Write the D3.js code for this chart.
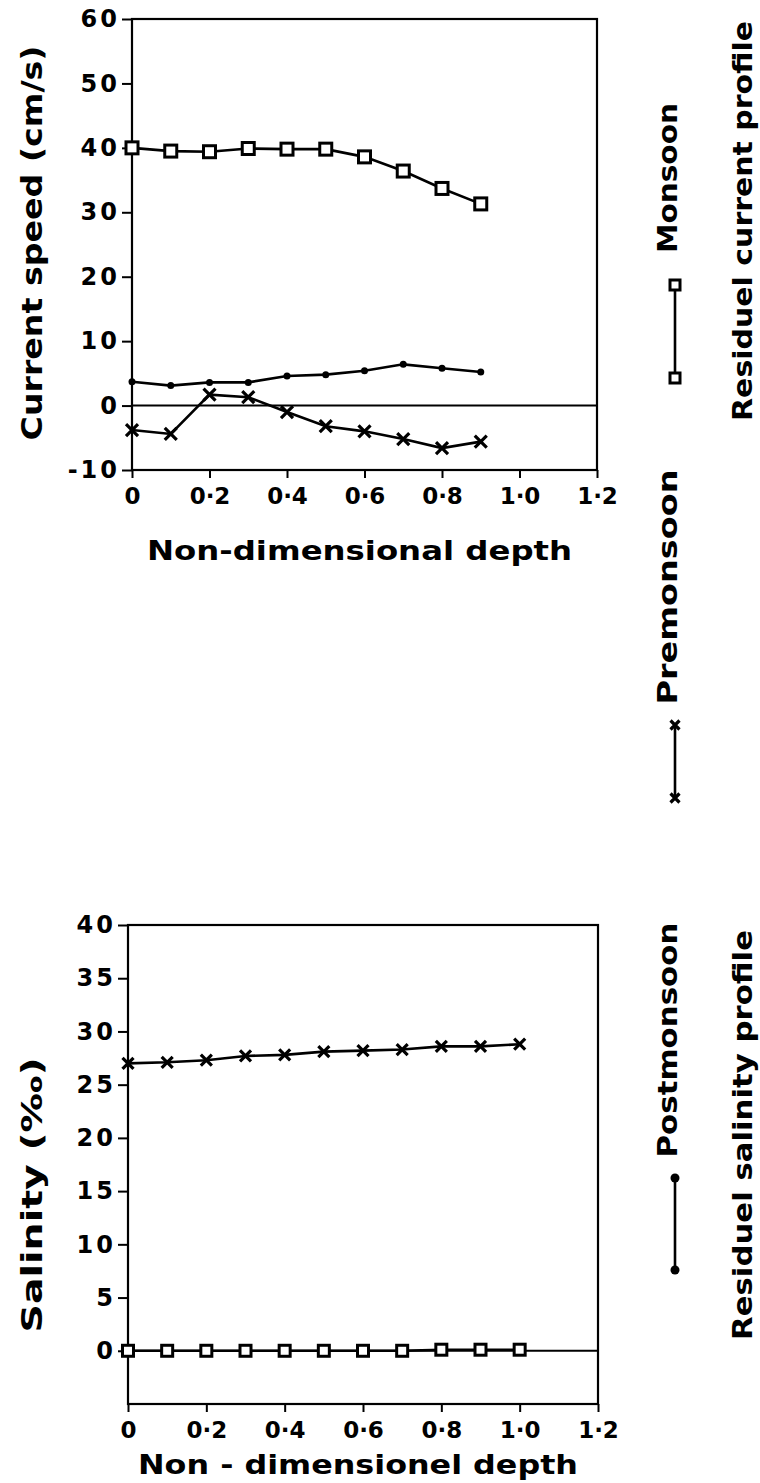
<!DOCTYPE html>
<html>
<head>
<meta charset="utf-8">
<script src="https://cdn.jsdelivr.net/npm/d3@7/dist/d3.min.js"></script>
<style>
  html, body { margin: 0; padding: 0; background: #fff; }
  svg { display: block; }
  text { font-family: "DejaVu Sans", sans-serif; font-weight: bold; fill: #000; }
</style>
</head>
<body>
<svg id="fig" width="760" height="1483"></svg>
<script>
// Non-dimensional depth stations
const depthCurrent = [0, 0.1, 0.2, 0.3, 0.4, 0.5, 0.6, 0.7, 0.8, 0.9];
const depthSalinity = [0, 0.1, 0.2, 0.3, 0.4, 0.5, 0.6, 0.7, 0.8, 0.9, 1.0];

// Residual current speed (cm/s)
const monsoonCurrent = [40.0, 39.5, 39.4, 39.9, 39.8, 39.8, 38.6, 36.4, 33.7, 31.3];
const premonsoonCurrent = [-3.8, -4.4, 1.7, 1.3, -1.0, -3.2, -4.0, -5.2, -6.6, -5.6];
const postmonsoonCurrent = [3.7, 3.1, 3.6, 3.6, 4.6, 4.8, 5.4, 6.4, 5.8, 5.2];

// Residual salinity (per mille)
const premonsoonSalinity = [27.0, 27.1, 27.3, 27.7, 27.8, 28.1, 28.2, 28.3, 28.6, 28.6, 28.8];
const monsoonSalinity = [0, 0, 0, 0, 0, 0, 0, 0, 0.1, 0.1, 0.1];

// Tick values
const xTicks = [0, 0.2, 0.4, 0.6, 0.8, 1.0, 1.2];
const currentTicks = [-10, 0, 10, 20, 30, 40, 50, 60];
const salinityTicks = [0, 5, 10, 15, 20, 25, 30, 35, 40];

const svg = d3.select("#fig");

const fmtX = d => d === 0 ? "0" : d3.format(".1f")(d).replace(".", "·");

function squareMark(g, pts, size) {
  g.selectAll(null).data(pts).join("rect")
    .attr("x", d => d[0] - size / 2).attr("y", d => d[1] - size / 2)
    .attr("width", size).attr("height", size)
    .attr("fill", "#fff").attr("stroke", "#000").attr("stroke-width", 3);
}
function crossMark(g, pts, size) {
  const h = size / 2;
  g.selectAll(null).data(pts).join("path")
    .attr("d", d => `M${d[0]-h},${d[1]-h}L${d[0]+h},${d[1]+h}M${d[0]-h},${d[1]+h}L${d[0]+h},${d[1]-h}`)
    .attr("stroke", "#000").attr("stroke-width", 3.2).attr("fill", "none");
}
function dotMark(g, pts, r) {
  g.selectAll(null).data(pts).join("circle")
    .attr("cx", d => d[0]).attr("cy", d => d[1]).attr("r", r).attr("fill", "#000");
}

function panel(opts) {
  const { x, y, yTicks, xTitle, yTitle, yTitleY, yTitleLen, xTitleY, xTitleLen } = opts;
  const g = svg.append("g");
  const [x0, x1] = x.range();
  const [y0, y1] = y.range();

  // frame
  g.append("rect").attr("x", x0).attr("y", y1).attr("width", x1 - x0).attr("height", y0 - y1)
    .attr("fill", "none").attr("stroke", "#000").attr("stroke-width", 2.2);

  // zero line
  g.append("line").attr("x1", x0).attr("x2", x1).attr("y1", y(0)).attr("y2", y(0))
    .attr("stroke", "#000").attr("stroke-width", 2);

  // axes
  const ax = g.append("g").attr("transform", `translate(0,${y0})`)
    .call(d3.axisBottom(x).tickValues(xTicks).tickFormat(fmtX).tickSize(8).tickPadding(10));
  ax.select(".domain").remove();
  ax.selectAll("line").attr("stroke", "#000").attr("stroke-width", 2);
  ax.selectAll("text").style("font-size", "23px").style("font-family", "DejaVu Sans").style("font-weight", "bold");

  const ay = g.append("g").attr("transform", `translate(${x0},0)`)
    .call(d3.axisLeft(y).tickValues(yTicks).tickFormat(d => String(d)).tickSize(10).tickPadding(2));
  ay.select(".domain").remove();
  ay.selectAll("line").attr("stroke", "#000").attr("stroke-width", 2);
  ay.selectAll("text").style("font-size", "24px").style("font-family", "DejaVu Sans")
    .style("font-weight", "bold").style("letter-spacing", "3px");

  // titles
  g.append("text").attr("x", (x0 + x1) / 2 - 5).attr("y", xTitleY)
    .attr("text-anchor", "middle").style("font-size", "27px")
    .attr("textLength", xTitleLen).attr("lengthAdjust", "spacingAndGlyphs").text(xTitle);
  g.append("text").attr("transform", `translate(42,${yTitleY}) rotate(-90)`)
    .attr("text-anchor", "middle").style("font-size", "28px")
    .attr("textLength", yTitleLen).attr("lengthAdjust", "spacingAndGlyphs").text(yTitle);
  return g;
}

// ---- Residual current profile ----
const xc = d3.scaleLinear().domain([0, 1.2]).range([132, 597]);
const yc = d3.scaleLinear().domain([-10, 60]).range([470, 19]);
const gc = panel({ x: xc, y: yc, yTicks: currentTicks,
  xTitle: "Non-dimensional depth", xTitleY: 560, xTitleLen: 425,
  yTitle: "Current speed  (cm/s)", yTitleY: 243, yTitleLen: 395 });

const lineC = d3.line().x(d => d[0]).y(d => d[1]);
const pts = (xs, vs, x, y) => xs.map((d, i) => [x(d), y(vs[i])]);

const monC = pts(depthCurrent, monsoonCurrent, xc, yc);
const preC = pts(depthCurrent, premonsoonCurrent, xc, yc);
const postC = pts(depthCurrent, postmonsoonCurrent, xc, yc);
[monC, preC, postC].forEach(p => gc.append("path").attr("d", lineC(p))
  .attr("fill", "none").attr("stroke", "#000").attr("stroke-width", 2.6));
squareMark(gc, monC, 12);
crossMark(gc, preC, 12);
dotMark(gc, postC, 3.5);

// ---- Residual salinity profile ----
const xs = d3.scaleLinear().domain([0, 1.2]).range([128, 598]);
const ys = d3.scaleLinear().domain([-5, 40]).range([1404, 925]);
const gs = panel({ x: xs, y: ys, yTicks: salinityTicks,
  xTitle: "Non - dimensionel depth", xTitleY: 1474, xTitleLen: 440,
  yTitle: "Salinity  (‰)", yTitleY: 1195, yTitleLen: 275 });

const preS = pts(depthSalinity, premonsoonSalinity, xs, ys);
const monS = pts(depthSalinity, monsoonSalinity, xs, ys);
[preS, monS].forEach(p => gs.append("path").attr("d", lineC(p))
  .attr("fill", "none").attr("stroke", "#000").attr("stroke-width", 2.6));
crossMark(gs, preS, 11);
squareMark(gs, monS, 11);

// ---- Legend (rotated column on the right) ----
const lg = svg.append("g");
const vText = (x, y, s, len, size) => lg.append("text")
  .attr("transform", `translate(${x},${y}) rotate(-90)`)
  .attr("text-anchor", "middle").style("font-size", size + "px")
  .attr("textLength", len).attr("lengthAdjust", "spacingAndGlyphs").text(s);

vText(752, 221, "Residuel current profile", 400, 27);
vText(752, 1135, "Residuel salinity profile", 410, 27);
vText(677, 178, "Monsoon", 150, 27);
vText(677, 587, "Premonsoon", 235, 27);
vText(677, 1040, "Postmonsoon", 235, 27);

const keyX = 675;
const seg = (ya, yb) => lg.append("line").attr("x1", keyX).attr("x2", keyX).attr("y1", ya).attr("y2", yb)
  .attr("stroke", "#000").attr("stroke-width", 2.6);
seg(285, 378); squareMark(lg, [[keyX, 285], [keyX, 378]], 10);
seg(725, 798); crossMark(lg, [[keyX, 725], [keyX, 798]], 9);
seg(1178, 1270); dotMark(lg, [[keyX, 1178], [keyX, 1270]], 4.5);
</script>
</body>
</html>
